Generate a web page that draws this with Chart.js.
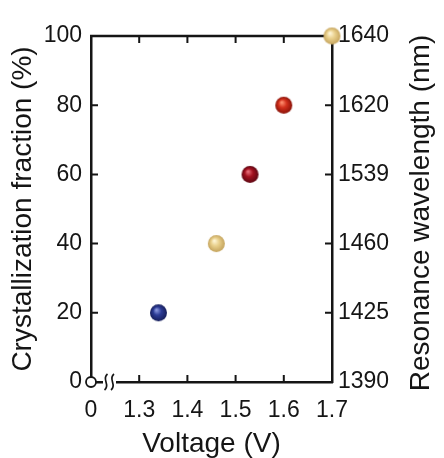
<!DOCTYPE html>
<html>
<head>
<meta charset="utf-8">
<script src="https://cdn.jsdelivr.net/npm/chart.js@4"></script>
<style>
html,body{margin:0;padding:0;background:#fff;}
</style>
</head>
<body>
<canvas id="grafico" width="444" height="458"></canvas>
<script>
/** Datos del grafico */
const voltajes = [0, 1.34, 1.46, 1.53, 1.6, 1.7];
const fracciones = [0, 20, 40, 60, 80, 100];
const ticksVoltaje = [0, 1.3, 1.4, 1.5, 1.6, 1.7];
const ticksFraccion = [0, 20, 40, 60, 80, 100];
const ticksLongitud = [1390, 1425, 1460, 1539, 1620, 1640];
/** colores de cada esfera: base, brillo, sombra */
const coloresEsfera = [
    null,
    ['#2d3c96', '#8c9ae0', '#161e5a'],
    ['#e9d08c', '#fff6d6', '#c4a35c'],
    ['#a3111f', '#e8707c', '#5e0612'],
    ['#d3301c', '#ff9070', '#8a1208'],
    ['#ead18e', '#fff7da', '#c6a55e']
];

const BREAK = 1.2; // el 0 se dibuja en la posicion 1.2 (eje cortado)
const negro = '#151515';
const fuente = 'Liberation Sans, Arial, Helvetica, sans-serif';

function crearEsfera(colores, r) {
    const c = document.createElement('canvas');
    c.width = c.height = r * 2 + 2;
    const g = c.getContext('2d');
    const cx = r + 1, cy = r + 1;
    const grad = g.createRadialGradient(cx - r * 0.25, cy - r * 0.35, r * 0.05, cx, cy, r);
    grad.addColorStop(0, colores[1]);
    grad.addColorStop(0.45, colores[0]);
    grad.addColorStop(1, colores[2]);
    g.fillStyle = grad;
    g.beginPath();
    g.arc(cx, cy, r, 0, Math.PI * 2);
    g.fill();
    return c;
}

const estilos = coloresEsfera.map(c => c ? crearEsfera(c, 8.5) : 'circle');

/** marco, ticks hacia adentro, simbolo de corte y titulo derecho */
const marco = {
    id: 'marco',
    beforeDatasetsDraw(chart) {
        const ctx = chart.ctx;
        const a = chart.chartArea;
        const sx = chart.scales.x, sy = chart.scales.y;
        const largo = 7;
        ctx.save();
        ctx.strokeStyle = negro;
        ctx.lineWidth = 2.5;
        ctx.beginPath();
        ctx.moveTo(a.left - 1, a.top);
        ctx.lineTo(a.right + 1, a.top);
        ctx.stroke();
        ctx.lineWidth = 2;
        ctx.beginPath();
        ticksVoltaje.slice(1, -1).forEach(v => {
            const px = sx.getPixelForValue(v);
            ctx.moveTo(px, a.bottom); ctx.lineTo(px, a.bottom - largo);
            ctx.moveTo(px, a.top); ctx.lineTo(px, a.top + largo);
        });
        ticksFraccion.slice(1, -1).forEach(v => {
            const py = sy.getPixelForValue(v);
            ctx.moveTo(a.left, py); ctx.lineTo(a.left + largo, py);
            ctx.moveTo(a.right, py); ctx.lineTo(a.right - largo, py);
        });
        ctx.stroke();

        // corte del eje x
        const x0 = a.left + 12, y0 = a.bottom;
        ctx.fillStyle = '#fff';
        ctx.fillRect(x0, y0 - 3, 13, 6);
        ctx.lineWidth = 1.7;
        ctx.beginPath();
        [x0 + 3, x0 + 9.5].forEach(x => {
            ctx.moveTo(x + 1.5, y0 - 8);
            ctx.bezierCurveTo(x - 5, y0 - 3, x + 5, y0 + 3, x - 1.5, y0 + 8);
        });
        ctx.stroke();

        // titulo del eje derecho (se lee de abajo hacia arriba)
        ctx.translate(421, (a.top + a.bottom) / 2 + 4);
        ctx.rotate(-Math.PI / 2);
        ctx.fillStyle = negro;
        ctx.font = '28px ' + fuente;
        ctx.textAlign = 'center';
        ctx.textBaseline = 'middle';
        ctx.fillText('Resonance wavelength (nm)', 0, 0);
        ctx.restore();
    }
};

const datos = voltajes.map((v, i) => ({ x: v === 0 ? BREAK : v, y: fracciones[i] }));

const tickFont = { family: fuente, size: 23 };
const tituloFont = { family: fuente, size: 28, lineHeight: 1 };

new Chart(document.getElementById('grafico'), {
    type: 'scatter',
    data: {
        datasets: [{
            data: datos,
            pointStyle: estilos,
            pointRadius: [5, 9, 9, 9, 9, 9],
            backgroundColor: ['#fff', '#fff', '#fff', '#fff', '#fff', '#fff'],
            borderColor: [negro, 'rgba(0,0,0,0)', 'rgba(0,0,0,0)', 'rgba(0,0,0,0)', 'rgba(0,0,0,0)', 'rgba(0,0,0,0)'],
            borderWidth: [1.8, 0, 0, 0, 0, 0],
            clip: false
        }]
    },
    options: {
        responsive: false,
        animation: false,
        devicePixelRatio: 1,
        layout: { padding: { top: 36, left: 0, right: 0, bottom: 0 } },
        plugins: { legend: { display: false }, tooltip: { enabled: false } },
        scales: {
            x: {
                type: 'linear',
                position: 'bottom',
                min: BREAK,
                max: 1.7,
                afterFit: s => { s.height = 76; },
                afterBuildTicks: s => { s.ticks = ticksVoltaje.map(v => ({ value: v === 0 ? BREAK : v })); },
                ticks: {
                    callback: (v, i) => String(ticksVoltaje[i]),
                    font: tickFont, color: negro, padding: 15,
                    maxRotation: 0, autoSkip: false
                },
                grid: { display: false, drawTicks: false },
                border: { display: true, color: negro, width: 2.5 },
                title: { display: true, text: 'Voltage (V)', font: tituloFont, color: negro, padding: { top: 1, bottom: 0 } }
            },
            y: {
                position: 'left',
                min: 0,
                max: 100,
                afterFit: s => { s.width = 91; },
                afterBuildTicks: s => { s.ticks = ticksFraccion.map(v => ({ value: v })); },
                ticks: { font: tickFont, color: negro, padding: 9 },
                grid: { display: false, drawTicks: false },
                border: { display: true, color: negro, width: 2.5 },
                title: { display: true, text: 'Crystallization fraction (%)', font: tituloFont, color: negro, padding: { top: 9, bottom: 0 } }
            },
            y1: {
                position: 'right',
                min: 0,
                max: 100,
                afterFit: s => { s.width = 112; },
                afterBuildTicks: s => { s.ticks = ticksFraccion.map(v => ({ value: v })); },
                ticks: {
                    callback: (v, i) => String(ticksLongitud[i]),
                    font: tickFont, color: negro, padding: 6
                },
                grid: { display: false, drawTicks: false },
                border: { display: true, color: negro, width: 2.5 },
                title: { display: false }
            }
        }
    },
    plugins: [marco]
});
</script>
</body>
</html>
